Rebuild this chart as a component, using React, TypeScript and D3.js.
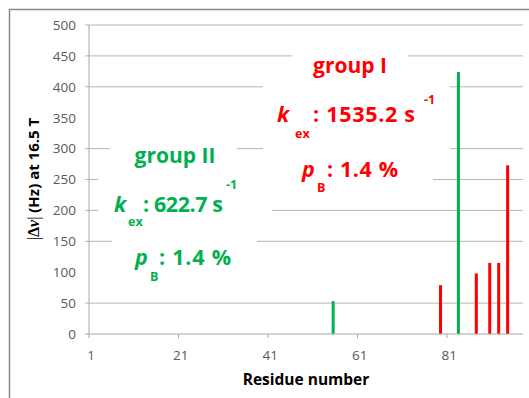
import React from 'react';
import * as d3 from 'd3';

// residues 1..97 on a category axis
const residueCount = 97;
const xTickLabels = [1, 21, 41, 61, 81];
const yTicks = [0, 50, 100, 150, 200, 250, 300, 350, 400, 450, 500];
// these two grid lines are not visible in the original figure
const hiddenGrid = [100, 350];

// |Δν| values (Hz) per residue
const groupIIResidues = [55, 83];
const groupIIShifts = [53, 424];
const groupIResidues = [79, 87, 90, 92, 94];
const groupIShifts = [79, 98, 115, 115, 273];

const W = 529;
const H = 398;
const GREEN = '#00B050';
const RED = '#FF0000';
const FONT = '"Open Sans", Lato, sans-serif';

const App = () => {
  const x = d3
    .scaleBand<number>()
    .domain(d3.range(1, residueCount + 1))
    .range([89, 523]);
  const y = d3.scaleLinear().domain([0, 500]).range([334, 25]);
  const bw = x.bandwidth();

  const bars = [
    ...groupIIResidues.map((r, i) => ({ r, v: groupIIShifts[i], c: GREEN })),
    ...groupIResidues.map((r, i) => ({ r, v: groupIShifts[i], c: RED })),
  ];

  return (
    <div style={{ position: 'fixed', left: 0, top: 0 }}>
      <svg width={W} height={H} style={{ display: 'block', background: '#fff' }}>
        <rect x={9.5} y={9.5} width={W} height={H} fill="#fff" stroke="#8a8a8a" strokeWidth={1.5} />

        {/* grid lines with outside ticks */}
        {yTicks
          .filter((t) => t !== 0 && !hiddenGrid.includes(t))
          .map((t) => (
            <line key={'g' + t} x1={85} x2={523} y1={y(t)} y2={y(t)} stroke="#b5b5b5" strokeWidth={1} />
          ))}

        {/* white text boxes that hide parts of the grid */}
        <g fill="#fff">
          <rect x={110} y={140} width={127} height={32} />
          <rect x={98} y={173} width={174} height={50} />
          <rect x={112} y={230} width={145} height={55} />
          <rect x={292} y={45} width={116} height={34} />
          <rect x={263} y={80} width={187} height={74} />
          <rect x={263} y={154} width={170} height={42} />
        </g>

        {/* bars */}
        {bars.map((d) => (
          <rect
            key={d.r}
            x={(x(d.r) as number) + bw / 2 - 1.2}
            y={y(d.v)}
            width={3}
            height={y(0) - y(d.v)}
            fill={d.c}
          />
        ))}

        {/* axes */}
        <line x1={89} x2={89} y1={y(500)} y2={y(0)} stroke="#a6a6a6" />
        <line x1={85} x2={523} y1={y(0)} y2={y(0)} stroke="#a6a6a6" />
        {xTickLabels.map((t) => (
          <g key={'x' + t}>
            <line x1={x(t) as number} x2={x(t) as number} y1={y(0)} y2={y(0) + 4} stroke="#a6a6a6" />
            <text
              x={(x(t) as number) + bw / 2}
              y={360}
              textAnchor="middle"
              fontFamily={FONT}
              fontSize={13.5}
              fill="#595959"
            >
              {t}
            </text>
          </g>
        ))}
        {yTicks.map((t) => (
          <text
            key={'y' + t}
            x={76}
            y={y(t)}
            dy="0.36em"
            textAnchor="end"
            fontFamily={FONT}
            fontSize={13.5}
            fill="#595959"
          >
            {t}
          </text>
        ))}

        {/* axis titles */}
        <text x={306} y={385} textAnchor="middle" fontFamily={FONT} fontWeight="bold" fontSize={15.5} fill="#000">
          Residue number
        </text>
        <g transform={`translate(39,179)rotate(-90)`}>
          <text textAnchor="middle" fontFamily={FONT} fontWeight="bold" fontSize={15} fill="#000">
            <tspan fontFamily="Liberation Serif" fontWeight="normal" fontSize={16}>|</tspan>
            <tspan fontFamily="Liberation Serif" fontSize={16}>Δ</tspan>
            <tspan fontFamily="Liberation Serif" fontStyle="italic" fontSize={16}>ν</tspan>
            <tspan fontFamily="Liberation Serif" fontWeight="normal" fontSize={16}>|</tspan>
            <tspan> (Hz) at 16.5 T</tspan>
          </text>
        </g>

        {/* group II annotation */}
        <g fontFamily={FONT} fontWeight="bold" fill={GREEN}>
          <text x={175} y={163} textAnchor="middle" fontSize={21}>group II</text>
          <text x={114} y={211.5} fontSize={21.5} fontStyle="italic">k</text>
          <text x={128} y={225.5} fontSize={12.5}>ex</text>
          <text x={143} y={211.5} fontSize={21.5} textLength={80} lengthAdjust="spacing">: 622.7 s</text>
          <text x={226} y={189} fontSize={12.5}>-1</text>
          <text x={135} y={265} fontSize={21.5} fontStyle="italic">p</text>
          <text x={150} y={281} fontSize={12.5}>B</text>
          <text x={159} y={265} fontSize={21.5} textLength={72} lengthAdjust="spacing">: 1.4 %</text>
        </g>

        {/* group I annotation */}
        <g fontFamily={FONT} fontWeight="bold" fill={RED}>
          <text x={350} y={73} textAnchor="middle" fontSize={21}>group I</text>
          <text x={277} y={122} fontSize={21.5} fontStyle="italic">k</text>
          <text x={295} y={137.5} fontSize={12.5}>ex</text>
          <text x={313} y={122} fontSize={21.5} textLength={102} lengthAdjust="spacing">: 1535.2 s</text>
          <text x={424} y={104} fontSize={12.5}>-1</text>
          <text x={302} y={176.5} fontSize={21.5} fontStyle="italic">p</text>
          <text x={317} y={191.5} fontSize={12.5}>B</text>
          <text x={327} y={176.5} fontSize={21.5} textLength={71} lengthAdjust="spacing">: 1.4 %</text>
        </g>
      </svg>
    </div>
  );
};

export default App;
